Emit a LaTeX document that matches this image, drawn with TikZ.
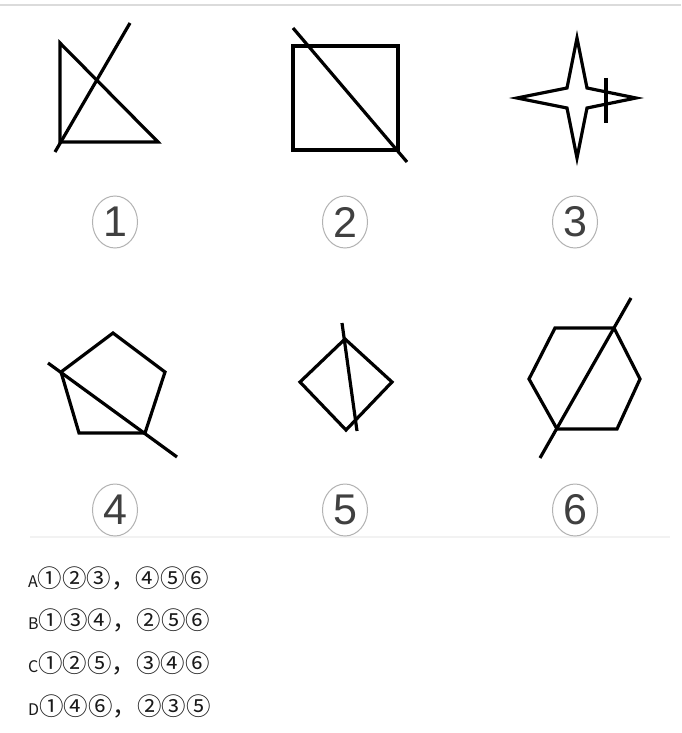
\documentclass[tikz,border=0pt]{standalone}
\usepackage{fontspec}
\setmainfont{Liberation Sans}
\newfontfamily\cjk{Noto Sans CJK SC}
\usetikzlibrary{shapes.geometric}

\begin{document}
\begin{tikzpicture}[x=1pt,y=-1pt,
  fig/.style={line width=3.2pt, line join=miter},
  numlabel/.style={draw=black!30, line width=1pt, ellipse, minimum width=45pt,
    minimum height=52pt, inner sep=0pt, text=black!75,
    font=\fontsize{43}{43}\selectfont},
  answer/.style={anchor=west, inner sep=0pt, text=black!90,
    font=\cjk\fontsize{24.5}{24.5}\selectfont}]
\useasboundingbox (0,0) rectangle (681,733);
\fill[white] (0,0) rectangle (681,733);
\draw[black!14, line width=1.2pt] (0,5) -- (681,5);
\draw[black!5, line width=1.5pt] (30,537) -- (670,537);

% figure 1: triangle
\draw[fig] (60,43) -- (60,142) -- (158,142) -- cycle;
\draw[fig] (55,152) -- (130,23);
% figure 2: square
\draw[fig] (293,46) rectangle (398,150);
\draw[fig] (293,28) -- (407,162);
% figure 3: star
\draw[fig] (577,38) -- (587,88) -- (636,98) -- (587,108) -- (577,158)
  -- (567,108) -- (517,98) -- (567,88) -- cycle;
\draw[fig] (606,78) -- (606,123);
% figure 4: pentagon
\draw[fig] (113,333) -- (165,372) -- (145,433) -- (79,433) -- (61,372) -- cycle;
\draw[fig] (48,363) -- (177,457);
% figure 5: diamond
\draw[fig] (345,339) -- (392,382) -- (346,430) -- (300,382) -- cycle;
\draw[fig] (342,323) -- (357,431);
% figure 6: hexagon
\draw[fig] (555,328) -- (614,328) -- (640,379) -- (617,429) -- (557,429)
  -- (529,379) -- cycle;
\draw[fig] (540,458) -- (631,298);

% numbers
\node[numlabel] (n1) at (115,222) {1};
\node[numlabel] (n2) at (345,222) {2};
\node[numlabel] (n3) at (575,222) {3};
\node[numlabel] (n4) at (115,510) {4};
\node[numlabel] (n5) at (345,510) {5};
\node[numlabel] (n6) at (575,510) {6};

% answers
\node[answer] (ansA) at (28,578) {{\fontsize{16}{16}\selectfont A}①②③，④⑤⑥};
\node[answer] (ansB) at (28,620) {{\fontsize{16}{16}\selectfont B}①③④，②⑤⑥};
\node[answer] (ansC) at (28,663) {{\fontsize{16}{16}\selectfont C}①②⑤，③④⑥};
\node[answer] (ansD) at (28,706) {{\fontsize{16}{16}\selectfont D}①④⑥，②③⑤};
\end{tikzpicture}
\end{document}
